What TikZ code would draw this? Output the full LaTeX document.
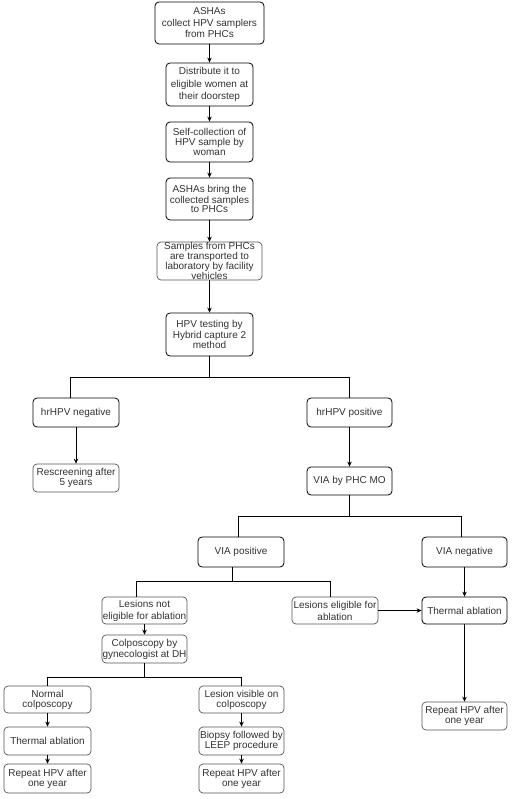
\documentclass[tikz,border=0pt]{standalone}
\usepackage{fontspec}
\setmainfont{Liberation Sans}
\usetikzlibrary{arrows.meta}
\definecolor{txt}{HTML}{333333}
\definecolor{gborder}{HTML}{555555}
\tikzset{
  bx/.style={draw=black, line width=0.8pt, rounded corners=4pt, fill=white,
    align=center, inner sep=0pt, text=txt, font=\fontsize{10}{10}\selectfont},
  gbx/.style={bx, draw=gborder, line width=0.7pt},
  sz/.style 2 args={minimum width=#1pt, minimum height=#2pt},
  ls/.style={font=\fontsize{10}{#1}\selectfont},
  arr/.style={draw=black, line width=0.8pt, -{Stealth[length=5pt,width=4.5pt]}},
  br/.style={draw=black, line width=1pt}
}
\begin{document}
\begin{tikzpicture}[x=1pt,y=-1pt]
\fill[white] (0,0) rectangle (512,799);
\useasboundingbox (0,0) rectangle (512,799);

% main column
\node[bx, sz={109}{42}, ls=11.5] (a1) at (209.5,23) {ASHAs\\collect HPV samplers\\from PHCs};
\node[bx, sz={87}{43}, ls=12.5] (a2) at (209.5,84.5) {Distribute it to\\eligible women at\\their doorstep};
\node[bx, sz={87}{40}] (a3) at (209.5,142) {Self-collection of\\HPV sample by\\woman};
\node[bx, sz={87}{42}, ls=9.3] (a4) at (209.5,199) {ASHAs bring the\\collected samples\\to PHCs};
\node[gbx, sz={105}{38}] (a5) at (209.5,261) {Samples from PHCs\\are transported to\\laboratory by facility\\vehicles};
\node[bx, sz={87}{43}, ls=9.3] (a6) at (209.5,334.5) {HPV testing by\\Hybrid capture 2\\method};

% HPV result
\node[bx, sz={86}{29}] (neg) at (76,412.5) {hrHPV negative};
\node[bx, sz={85}{29}] (pos) at (349.5,412.5) {hrHPV positive};
\node[gbx, sz={86}{28}] (resc) at (76,478) {Rescreening after\\5 years};
\node[bx, sz={85}{28}] (via) at (349.5,481) {VIA by PHC MO};

% VIA result
\node[bx, sz={86}{30}] (vpos) at (241,552) {VIA positive};
\node[bx, sz={85}{30}] (vneg) at (464.5,552) {VIA negative};
\node[gbx, sz={85}{27}, ls=12] (lne) at (144.5,610.5) {Lesions not\\eligible for ablation};
\node[gbx, sz={86}{27}, ls=12] (le) at (335,610.5) {Lesions eligible for\\ablation};
\node[bx, sz={85}{27}] (ta1) at (464.5,610.5) {Thermal ablation};
\node[gbx, sz={85}{28}] (rep3) at (464.5,716) {Repeat HPV after\\one year};

% colposcopy
\node[gbx, sz={85}{28}, ls=11] (colp) at (144.5,649) {Colposcopy by\\gynecologist at DH};
\node[gbx, sz={87}{27}] (normc) at (47.5,699.5) {Normal\\colposcopy};
\node[gbx, sz={85}{27}] (lvis) at (241.5,699.5) {Lesion visible on\\colposcopy};
\node[gbx, sz={87}{28}] (ta2) at (47.5,741) {Thermal ablation};
\node[gbx, sz={85}{28}, ls=9.5] (biop) at (241.5,741) {Biopsy followed by\\LEEP procedure};
\node[gbx, sz={87}{29}] (rep1) at (47.5,778.5) {Repeat HPV after\\one year};
\node[gbx, sz={85}{29}] (rep2) at (241.5,778.5) {Repeat HPV after\\one year};

% main column arrows
\draw[arr] (a1) -- (a2);
\draw[arr] (a2) -- (a3);
\draw[arr] (a3) -- (a4);
\draw[arr] (a4) -- (a5);
\draw[arr] (a5) -- (a6);

% branch after HPV testing
\coordinate (j1) at (209.5,377);
\coordinate (j1L) at (70,377);
\coordinate (j1R) at (349.5,377);
\draw[br] (a6.south) -- (j1);
\draw[br] (j1L) -- (j1R);
\draw[br] (j1L) -- (j1L |- neg.north);
\draw[br] (j1R) -- (pos.north);
\draw[arr] (neg) -- (resc);
\draw[arr] (pos) -- (via);

% branch after VIA
\coordinate (j2) at (349.5,516);
\coordinate (j2L) at (238,516);
\coordinate (j2R) at (461,516);
\draw[br] (via.south) -- (j2);
\draw[br] (j2L) -- (j2R);
\draw[br] (j2L) -- (j2L |- vpos.north);
\draw[br] (j2R) -- (j2R |- vneg.north);

% branch after VIA positive
\coordinate (j3T) at (232,567);
\coordinate (j3) at (232,581);
\coordinate (j3L) at (136,581);
\coordinate (j3R) at (330,581);
\draw[br] (j3T) -- (j3);
\draw[br] (j3L) -- (j3R);
\draw[br] (j3L) -- (j3L |- lne.north);
\draw[br] (j3R) -- (j3R |- le.north);

\draw[arr] (vneg) -- (ta1);
\draw[arr] (le) -- (ta1);
\draw[arr] (ta1) -- (rep3);
\draw[arr] (lne) -- (colp);

% branch after colposcopy
\coordinate (j4) at (144.5,677);
\coordinate (j4L) at (47.5,677);
\coordinate (j4R) at (241.5,677);
\draw[br] (colp.south) -- (j4);
\draw[br] (j4L) -- (j4R);
\draw[br] (j4L) -- (normc.north);
\draw[br] (j4R) -- (lvis.north);

\draw[arr] (normc) -- (ta2);
\draw[arr] (ta2) -- (rep1);
\draw[arr] (lvis) -- (biop);
\draw[arr] (biop) -- (rep2);
\end{tikzpicture}
\end{document}
